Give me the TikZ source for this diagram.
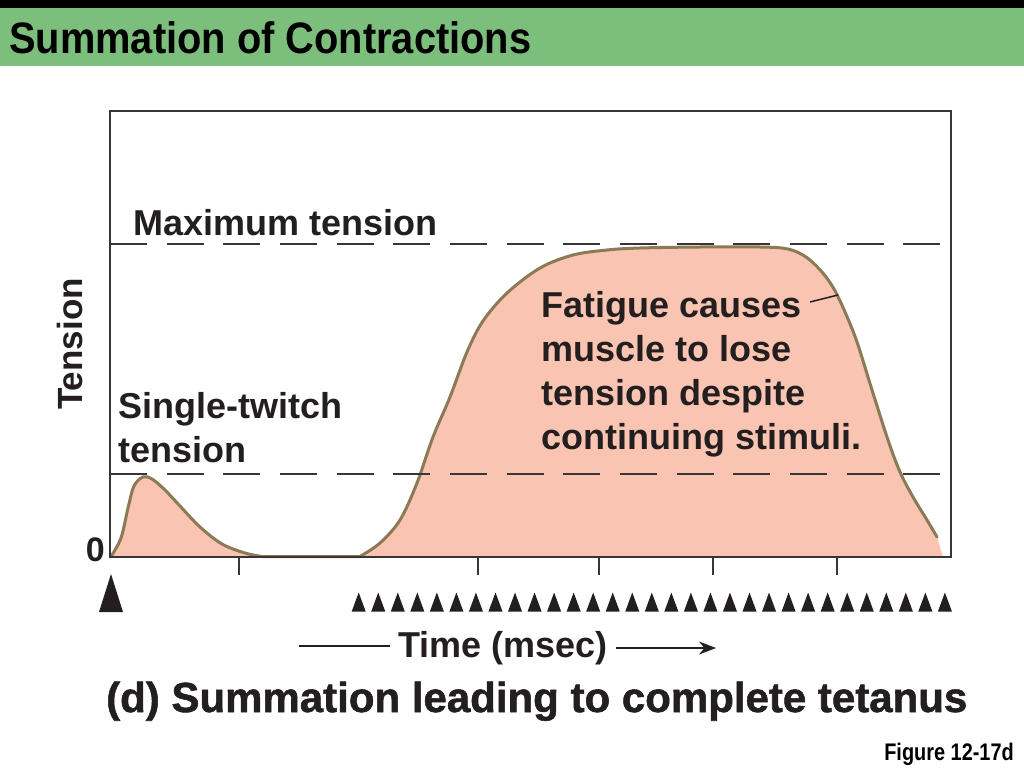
\documentclass[tikz,border=0pt]{standalone}
\usepackage{fontspec}
\setmainfont{Liberation Sans}
\newfontfamily\condfont[FakeStretch=0.905]{Liberation Sans}
\newfontfamily\narrowfont[FakeStretch=0.83]{Liberation Sans}
\newfontfamily\heavyfont[FakeBold=1.3]{Liberation Sans Bold}
\usetikzlibrary{arrows.meta}
\definecolor{bargreen}{RGB}{124,191,124}
\definecolor{curvefill}{RGB}{249,196,177}
\definecolor{curveline}{RGB}{139,122,86}
\definecolor{ink}{RGB}{35,31,32}
\tikzset{
  lbl/.style={inner sep=0pt, text=ink, font=\fontsize{36}{43.7}\selectfont\bfseries, align=left},
  refline/.style={draw=ink!90, line width=1.5pt, dash pattern=on 37pt off 19.67pt},
  axisline/.style={draw=ink!90, line width=2pt},
  stim/.style={fill=ink},
}
\begin{document}
\begin{tikzpicture}[x=1pt,y=-1pt]
\useasboundingbox (0,0) rectangle (1024,768);
% header bars
\fill[black] (0,0) rectangle (1024,8);
\fill[bargreen] (0,8) rectangle (1024,66);
\node[inner sep=0pt, anchor=base west, text=black, font=\condfont\fontsize{44}{50}\selectfont\bfseries] (title) at (9,53) {Summation of Contractions};
% fill under curve
\path[fill=curvefill] plot[smooth, tension=0.55] coordinates {(111,556.5) (121,538) (128,508) (134,486) (143,477) (152,479) (165,490) (180,506) (200,527) (222,544) (245,553) (262,556.5)}
  -- (360,556.5)
  plot[smooth, tension=0.55] coordinates {(360,556.5) (380,543) (400,520) (417,483) (433,437) (450,397) (467,352) (483,321) (507,293) (540,268) (573,255) (607,250) (640,248) (700,247) (760,247) (788,249) (806,257) (822,272) (834,289) (845,312) (857,342) (872,390) (888,440) (900,472) (913,497) (927,520) (937,537)}
  -- (943,557) -- (111,557) -- cycle;
% curve stroke
\draw[curveline, line width=3pt, line cap=round] plot[smooth, tension=0.55] coordinates {(111,556.5) (121,538) (128,508) (134,486) (143,477) (152,479) (165,490) (180,506) (200,527) (222,544) (245,553) (262,556.5)}
  -- (360,556.5)
  plot[smooth, tension=0.55] coordinates {(360,556.5) (380,543) (400,520) (417,483) (433,437) (450,397) (467,352) (483,321) (507,293) (540,268) (573,255) (607,250) (640,248) (700,247) (760,247) (788,249) (806,257) (822,272) (834,289) (845,312) (857,342) (872,390) (888,440) (900,472) (913,497) (927,520) (937,537)};
% reference lines
\coordinate (maxL) at (110,244);
\coordinate (maxR) at (945,244);
\coordinate (twL) at (110,474);
\coordinate (twR) at (945,474);
\draw[refline] (maxL) -- (maxR);
\draw[refline] (twL) -- (twR);
% frame
\draw[axisline] (110,111) rectangle (951,557);
% ticks
\foreach \t [count=\k] in {239,478,599,713,837}{
  \coordinate (tk\k a) at (\t,557);
  \coordinate (tk\k b) at (\t,575);
  \draw[axisline] (tk\k a) -- (tk\k b);
}
% stimuli
\fill[stim] (99,612) -- (111,574) -- (123,612) -- cycle;
\foreach \i in {0,...,30}{
  \fill[stim] ({358.7+19.54*\i-7},611.5) -- ++(7,-19) -- ++(7,19) -- cycle;
}
% labels
\node[lbl, anchor=base west] (maxlbl) at (133,235) {Maximum tension};
\node[lbl, anchor=base west] (twlbl) at (118,462) {Single-twitch\\tension};
\node[lbl, anchor=base west] (fatigue) at (541,449) {Fatigue causes\\muscle to lose\\tension despite\\continuing stimuli.};
\coordinate (ptrA) at (810,302);
\coordinate (ptrB) at (838,295);
\draw[ink, line width=1.5pt] (ptrA) -- (ptrB);
\node[lbl, rotate=90, anchor=base west, font=\fontsize{35}{40}\selectfont\bfseries] (tens) at (82,410) {Tension};
\node[lbl, anchor=base east, font=\fontsize{34}{38}\selectfont\bfseries] (zero) at (105,561) {0};
\node[lbl, anchor=base west] (time) at (398,657) {Time (msec)};
\coordinate (tl1) at (299,646);
\coordinate (tl2) at (390,646);
\draw[ink, line width=2pt] (tl1) -- (tl2);
\coordinate (ta1) at (616,648);
\coordinate (ta2) at (716,648);
\draw[ink, line width=2pt, -{Stealth[length=17pt,width=13pt]}] (ta1) -- (ta2);
\node[lbl, anchor=base west, font=\heavyfont\fontsize{42}{48}\selectfont] (caption) at (106,712) {(d) Summation leading to complete tetanus};
\node[inner sep=0pt, anchor=base east, text=black, font=\narrowfont\fontsize{24}{28}\selectfont\bfseries] (fig) at (1014,760) {Figure 12-17d};
\end{tikzpicture}
\end{document}
